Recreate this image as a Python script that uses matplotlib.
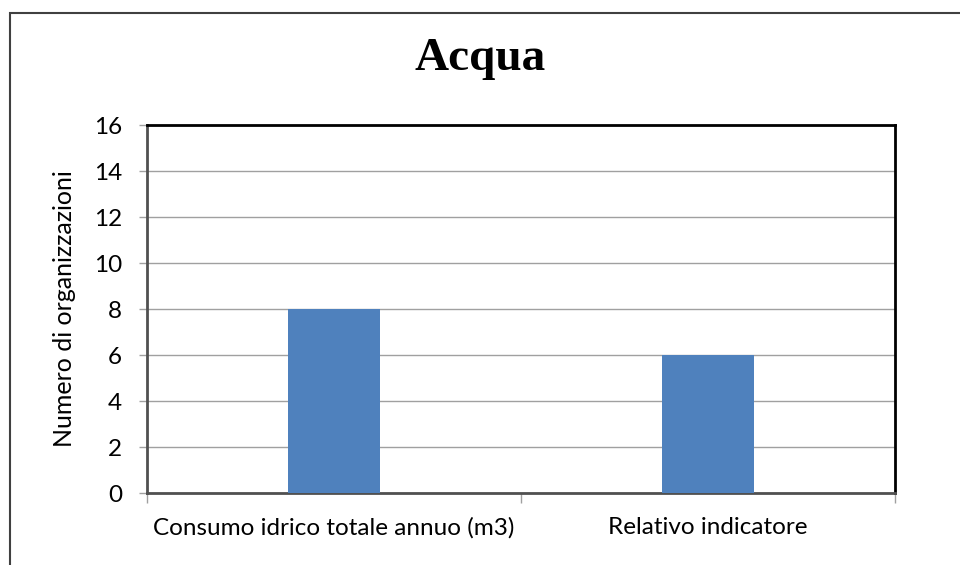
import matplotlib.pyplot as plt
import matplotlib.patches as patches

categories = ['Consumo idrico totale annuo (m3)', 'Relativo indicatore']
values = [8, 6]
y_ticks = [0, 2, 4, 6, 8, 10, 12, 14, 16]

plt.rcParams['font.family'] = ['Lato', 'DejaVu Sans']

fig = plt.figure(figsize=(9.6, 5.65), dpi=100)

# outer chart border
fig.patches.append(patches.Rectangle((10 / 960, -0.1), 1.1, 1 - 13 / 565 + 0.1,
                                     transform=fig.transFigure, fill=False,
                                     edgecolor='#404040', linewidth=1.5))

ax = fig.add_axes([147 / 960, 1 - 493 / 565, (895 - 147) / 960, (493 - 125) / 565])

x = range(len(categories))
ax.bar(x, values, width=0.246, color='#4f81bd', zorder=3)

ax.set_xlim(-0.5, len(categories) - 0.5)
ax.set_ylim(0, 16)
ax.set_yticks(y_ticks)
ax.yaxis.grid(True, color='#a0a0a0', linewidth=1, zorder=0)

ax.set_xticks(list(x))
ax.set_xticklabels(categories, fontsize=17.5)
ax.tick_params(axis='x', length=0, pad=17)
ax.set_xticks([-0.5, 0.5, 1.5], minor=True)
ax.tick_params(axis='x', which='minor', length=7, color='#a0a0a0', width=1)
ax.tick_params(axis='y', length=6, color='#a0a0a0', width=1, labelsize=17.5, pad=12)

ax.spines['top'].set_color('black')
ax.spines['top'].set_linewidth(2)
ax.spines['right'].set_color('black')
ax.spines['right'].set_linewidth(2)
ax.spines['left'].set_color('#505050')
ax.spines['left'].set_linewidth(2)
ax.spines['bottom'].set_color('#505050')
ax.spines['bottom'].set_linewidth(2)

ax.set_ylabel('Numero di organizzazioni', fontsize=18, labelpad=13)

fig.text(0.5, 1 - 59 / 565, 'Acqua', ha='center', va='center',
         fontsize=34, fontweight='bold', family='Liberation Serif')

fig.savefig('out.png', dpi=100)
